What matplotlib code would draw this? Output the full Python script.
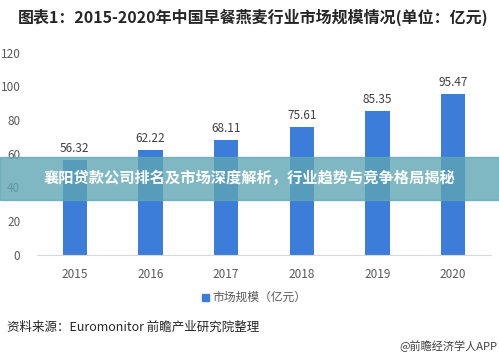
import matplotlib.pyplot as plt
from matplotlib.patches import Rectangle

plt.rcParams['font.family'] = ['Noto Sans CJK SC', 'DejaVu Sans']

years = ['2015', '2016', '2017', '2018', '2019', '2020']
market_size = [56.32, 62.22, 68.11, 75.61, 85.35, 95.47]
yticks = [0, 20, 40, 60, 80, 100, 120]

title = '图表1：2015-2020年中国早餐燕麦行业市场规模情况(单位：亿元)'
legend_label = '市场规模（亿元）'
source = '资料来源：Euromonitor 前瞻产业研究院整理'
credit = '@前瞻经济学人APP'
banner = '襄阳贷款公司排名及市场深度解析，行业趋势与竞争格局揭秘'

W, H = 499, 358
fig = plt.figure(figsize=(W / 100, H / 100), dpi=100)
ax = fig.add_axes([37 / W, (H - 255) / H, 454 / W, (255 - 52.5) / H])

bar_color = '#3b7dd8'
x = range(len(years))
bars = ax.bar(x, market_size, width=0.32, color=bar_color, zorder=2)
for xi, v in zip(x, market_size):
    ax.text(xi, v + 3, f'{v:.2f}', ha='center', va='bottom', fontsize=8.5, color='#404040')

ax.set_xlim(-0.5, len(years) - 0.5)
ax.set_ylim(0, 120)
ax.set_yticks(yticks)
ax.set_xticks(list(x))
ax.set_xticklabels(years)
ax.tick_params(length=0, labelsize=8.5, colors='#595959', pad=9)
ax.tick_params(axis='y', pad=12)
for s in ['top', 'right', 'left']:
    ax.spines[s].set_visible(False)
ax.spines['bottom'].set_color('#d9d9d9')

# title, legend and notes
fig.text(18 / W, 1 - 17 / H, title, fontsize=11.5, fontweight='bold', color='#262626', va='center')
fig.patches.append(Rectangle((202 / W, 1 - 301 / H), 7 / W, 7 / H,
                             transform=fig.transFigure, color=bar_color))
fig.text(212 / W, 1 - 297 / H, legend_label, fontsize=8.5, color='#595959', va='center')
fig.text(7 / W, 1 - 327 / H, source, fontsize=9, color='#262626', va='center')
fig.text(497 / W, 1 - 346 / H, credit, fontsize=8, color='#404040', va='center', ha='right')

# overlay banner
fig.patches.append(Rectangle((0, 1 - 200 / H), 1, 43 / H, transform=fig.transFigure,
                             color='#5fa6b4', alpha=0.8, zorder=5))
fig.text(0.5, 1 - 178 / H, banner, fontsize=11, fontweight='bold', color='white',
         ha='center', va='center', zorder=6)

fig.savefig('out.png', dpi=100)
